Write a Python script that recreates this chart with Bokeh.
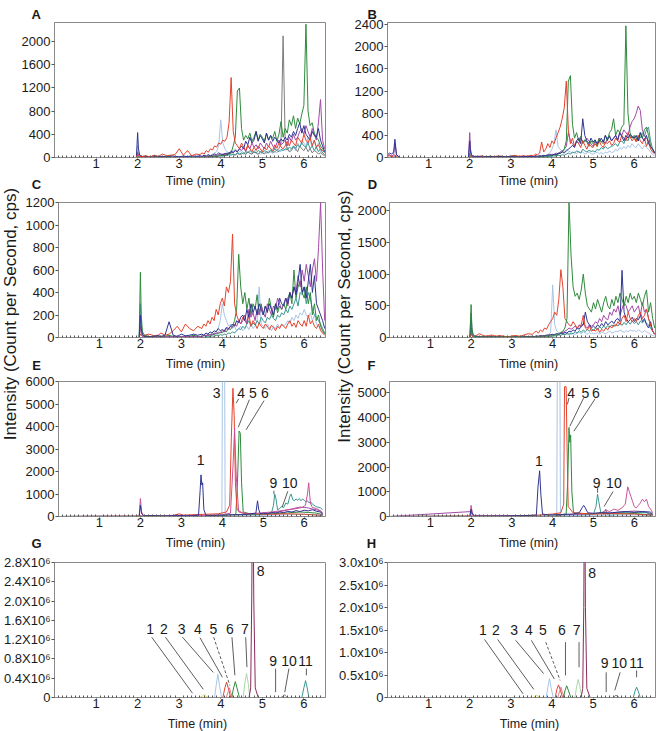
from math import pi

from bokeh.core.properties import value
from bokeh.embed import file_html
from bokeh.layouts import column, row
from bokeh.models import CustomJSTickFormatter, FixedTicker, Label, Range1d
from bokeh.plotting import figure
from bokeh.resources import INLINE

FONT = "Liberation Sans"
FRAME = "#8a8a8a"
INK = "#1a1a1a"

RED = "#e5432d"
GREEN = "#2f8a3c"
NAVY = "#2e3590"
PURPLE = "#a24aa6"
LBLUE = "#a9c4e6"
TEAL = "#3a9690"
GRAY = "#7c7c7c"
PINK = "#c8529c"
YELLOW = "#e6da5c"
LGREEN = "#a9d9a4"
MAROON = "#8a2a5c"
SALMON = "#e07a8a"

X_END = 6.52
X_TICKS = [1, 2, 3, 4, 5, 6]
Y_TITLE = "Intensity (Count per Second, cps)"
X_TITLE = "Time (min)"

# ---------------------------------------------------------------------------
# Panels A-D: total ion traces of blank extracts, sampled on a shared time grid
# ---------------------------------------------------------------------------
T_LC = [0.00, 0.05, 0.10, 0.15, 0.18, 0.22, 0.30,
        1.97, 2.00, 2.02, 2.05, 2.10,
        2.20, 2.30, 2.40, 2.50, 2.60, 2.70, 2.80, 2.90, 3.00, 3.10, 3.20, 3.30, 3.40,
        3.50, 3.55, 3.60, 3.65, 3.70, 3.75, 3.80, 3.85, 3.90, 3.95,
        4.00, 4.05, 4.10, 4.15, 4.20, 4.25, 4.30, 4.35, 4.40, 4.45,
        4.50, 4.55, 4.60, 4.65, 4.70, 4.75, 4.80, 4.85, 4.90, 4.95,
        5.00, 5.05, 5.10, 5.15, 5.20, 5.25, 5.30, 5.35, 5.40, 5.45,
        5.50, 5.55, 5.60, 5.65, 5.70, 5.75, 5.80, 5.85, 5.90, 5.95,
        6.00, 6.05, 6.10, 6.15, 6.20, 6.25, 6.30, 6.35, 6.40, 6.45,
        6.50]

A_RED = [0, 0, 0, 0, 0, 0, 0,
         0, 60, 30, 20, 15,
         30, 10, 40, 20, 60, 30, 40, 50, 150, 40, 120, 30, 60,
         50, 80, 60, 120, 90, 150, 130, 200, 180, 250,
         230, 300, 280, 350, 600, 1380, 450, 250, 200, 150,
         250, 180, 120, 220, 150, 100, 180, 120, 200, 150,
         100, 180, 130, 200, 150, 120, 220, 160, 250, 180,
         150, 200, 280, 200, 300, 250, 200, 350, 300, 250,
         400, 300, 250, 350, 200, 300, 180, 220, 150, 120,
         80]
A_GREEN = [0, 0, 0, 0, 0, 0, 0,
           0, 20, 10, 5, 0,
           0, 5, 0, 10, 0, 5, 10, 0, 5, 0, 10, 5, 0,
           0, 10, 5, 0, 10, 20, 10, 15, 20, 30,
           30, 40, 30, 50, 60, 80, 200, 350, 1150, 1200,
           500, 300, 380, 320, 420, 280, 350, 450, 300, 400,
           350, 280, 420, 300, 380, 330, 450, 280, 400, 620,
           350, 500, 420, 650, 550, 720, 500, 680, 580, 750,
           900, 2300, 800, 550, 600, 420, 350, 300, 200, 150,
           100]
A_GRAY = [0, 0, 0, 0, 0, 0, 0,
          0, 100, 50, 20, 10,
          10, 0, 10, 5, 0, 10, 0, 5, 0, 10, 5, 0, 10,
          10, 0, 20, 10, 0, 20, 10, 30, 20, 40,
          50, 30, 60, 40, 80, 60, 50, 40, 70, 50,
          60, 80, 50, 100, 70, 60, 90, 80, 50, 100,
          80, 60, 100, 80, 120, 90, 100, 130, 150, 250,
          2100, 300, 150, 100, 120, 180, 150, 100, 200, 150,
          120, 180, 100, 150, 80, 120, 100, 60, 80, 50,
          30]
A_LBLUE = [0, 0, 0, 0, 0, 0, 0,
           0, 200, 50, 20, 10,
           10, 20, 10, 5, 10, 20, 10, 15, 5, 10, 20, 10, 15,
           20, 10, 30, 20, 40, 30, 60, 80, 100, 200,
           650, 250, 150, 100, 80, 120, 100, 150, 80, 100,
           120, 80, 60, 100, 80, 50, 120, 90, 70, 60,
           80, 100, 60, 120, 90, 70, 100, 80, 130, 100,
           150, 120, 180, 100, 150, 200, 120, 250, 180, 300,
           250, 200, 350, 280, 200, 300, 150, 250, 100, 80,
           50]
A_NAVY = [0, 0, 0, 0, 0, 0, 0,
          0, 430, 150, 40, 20,
          20, 10, 30, 15, 20, 10, 30, 20, 10, 25, 15, 30, 20,
          30, 20, 40, 25, 50, 30, 40, 60, 50, 80,
          60, 50, 70, 60, 80, 100, 90, 120, 100, 150,
          200, 150, 280, 220, 350, 250, 300, 450, 280, 380,
          320, 250, 420, 300, 380, 280, 350, 300, 250, 320,
          280, 350, 300, 400, 350, 450, 380, 500, 600, 420,
          550, 400, 350, 300, 450, 380, 350, 500, 300, 200,
          100]
A_PURPLE = [0, 0, 0, 0, 0, 0, 0,
            0, 80, 30, 10, 5,
            5, 0, 10, 5, 0, 10, 5, 0, 10, 5, 0, 10, 5,
            10, 5, 20, 10, 20, 30, 20, 40, 30, 50,
            40, 60, 50, 80, 60, 100, 80, 120, 100, 150,
            120, 180, 100, 200, 150, 250, 180, 220, 150, 250,
            200, 150, 250, 180, 280, 200, 150, 250, 300, 220,
            250, 300, 200, 350, 280, 400, 300, 350, 450, 500,
            400, 550, 450, 350, 500, 400, 300, 600, 1000, 300,
            150]
A_TEAL = [0, 0, 0, 0, 0, 0, 0,
          0, 50, 20, 10, 5,
          0, 5, 0, 5, 0, 5, 0, 5, 0, 5, 0, 5, 0,
          0, 5, 10, 5, 10, 15, 10, 20, 15, 20,
          30, 20, 40, 30, 50, 40, 60, 50, 80, 60,
          80, 60, 100, 80, 120, 90, 100, 80, 120, 100,
          90, 120, 100, 80, 130, 100, 150, 120, 100, 140,
          120, 150, 130, 180, 150, 200, 160, 220, 180, 250,
          200, 180, 250, 150, 200, 120, 180, 100, 150, 80,
          50]

B_RED = [20, 40, 10, 30, 50, 10, 0,
         0, 40, 20, 10, 20,
         20, 30, 10, 25, 15, 30, 20, 10, 25, 40, 20, 30, 25,
         40, 30, 60, 50, 80, 280, 100, 150, 250, 180,
         300, 250, 350, 450, 550, 700, 900, 1380, 500, 250,
         350, 200, 300, 250, 180, 300, 220, 150, 250, 200,
         180, 250, 200, 300, 220, 180, 280, 250, 300, 220,
         250, 350, 300, 280, 400, 350, 300, 450, 380, 300,
         350, 280, 400, 300, 250, 350, 200, 300, 150, 100,
         60]
B_GREEN = [0, 0, 0, 0, 0, 0, 0,
           0, 30, 10, 5, 0,
           0, 5, 0, 5, 0, 5, 0, 5, 10, 5, 0, 5, 10,
           10, 5, 15, 10, 20, 15, 20, 30, 25, 40,
           30, 50, 40, 60, 80, 100, 150, 300, 1380, 1480,
           600, 350, 450, 300, 380, 250, 320, 280, 200, 300,
           250, 300, 200, 350, 280, 250, 400, 300, 450, 500,
           700, 400, 500, 450, 550, 600, 2380, 800, 450, 350,
           400, 350, 300, 450, 350, 500, 550, 400, 200, 150,
           80]
B_NAVY = [50, 80, 60, 100, 330, 50, 0,
          0, 300, 100, 30, 20,
          20, 10, 15, 20, 10, 15, 20, 10, 25, 15, 10, 20, 15,
          20, 15, 25, 20, 30, 25, 35, 30, 40, 50,
          40, 60, 50, 80, 70, 100, 80, 120, 150, 180,
          220, 180, 300, 350, 250, 700, 400, 300, 250, 350,
          280, 320, 250, 300, 350, 280, 400, 320, 380, 300,
          350, 400, 320, 450, 380, 300, 400, 350, 420, 380,
          350, 400, 300, 450, 350, 300, 400, 250, 200, 150,
          80]
B_PURPLE = [30, 50, 20, 60, 250, 40, 0,
            0, 450, 150, 40, 20,
            15, 10, 20, 15, 10, 20, 15, 10, 20, 10, 15, 20, 10,
            20, 15, 30, 20, 25, 30, 40, 35, 50, 45,
            60, 50, 80, 70, 100, 120, 150, 200, 450, 300,
            250, 200, 300, 250, 350, 300, 280, 350, 300, 250,
            200, 300, 250, 350, 280, 300, 250, 350, 400, 300,
            350, 400, 300, 450, 400, 500, 450, 400, 550, 650,
            700, 800, 930, 850, 500, 400, 350, 300, 200, 150,
            80]
B_LBLUE = [0, 20, 0, 10, 40, 0, 0,
           0, 150, 40, 10, 5,
           10, 5, 10, 5, 10, 5, 10, 5, 10, 5, 10, 5, 10,
           10, 15, 20, 15, 30, 20, 40, 30, 60, 80,
           150, 250, 500, 200, 150, 120, 100, 150, 120, 100,
           80, 100, 60, 120, 80, 100, 60, 80, 100, 70,
           60, 80, 100, 70, 90, 60, 100, 80, 120, 90,
           100, 150, 120, 180, 150, 200, 160, 220, 180, 250,
           200, 180, 250, 200, 150, 220, 180, 150, 100, 50,
           30]
B_TEAL = [0, 0, 0, 0, 20, 0, 0,
          0, 80, 20, 5, 0,
          0, 5, 0, 5, 0, 5, 0, 5, 0, 5, 0, 5, 0,
          0, 5, 10, 5, 10, 5, 15, 10, 20, 15,
          20, 30, 25, 40, 30, 50, 40, 60, 80, 60,
          100, 80, 120, 100, 80, 150, 120, 100, 130, 110,
          120, 100, 150, 130, 180, 150, 200, 160, 180, 200,
          220, 250, 200, 280, 300, 250, 350, 300, 400, 350,
          380, 300, 400, 350, 450, 380, 500, 550, 300, 150,
          80]

C_RED = [0, 0, 0, 0, 0, 0, 0,
         0, 30, 20, 10, 20,
         30, 20, 10, 40, 20, 30, 60, 100, 50, 120, 80, 60, 100,
         80, 120, 100, 150, 120, 180, 150, 250, 200, 300,
         350, 280, 450, 400, 500, 920, 300, 200, 150, 120,
         180, 150, 120, 200, 100, 150, 120, 80, 130, 100,
         80, 120, 100, 70, 110, 90, 60, 100, 80, 120,
         100, 80, 120, 150, 100, 130, 90, 150, 120, 100,
         150, 100, 200, 120, 150, 100, 80, 120, 60, 40,
         20]
C_GREEN = [0, 0, 0, 0, 0, 0, 0,
           0, 580, 200, 50, 20,
           10, 5, 10, 5, 10, 20, 10, 5, 10, 5, 10, 20, 10,
           10, 20, 15, 25, 20, 30, 25, 40, 30, 50,
           40, 60, 50, 80, 70, 100, 150, 250, 740, 450,
           300, 400, 250, 350, 200, 300, 250, 380, 220, 300,
           200, 280, 220, 350, 250, 180, 300, 220, 280, 250,
           300, 250, 350, 400, 300, 600, 350, 450, 500, 400,
           350, 450, 300, 400, 200, 300, 150, 200, 100, 60,
           30]
C_NAVY = [0, 0, 0, 0, 0, 0, 0,
          0, 200, 80, 30, 10,
          10, 5, 20, 10, 20, 140, 20, 10, 30, 15, 20, 30, 20,
          30, 20, 40, 30, 50, 40, 60, 50, 80, 60,
          70, 60, 90, 80, 100, 120, 100, 150, 130, 180,
          200, 150, 250, 180, 300, 220, 280, 200, 300, 250,
          200, 280, 230, 300, 250, 200, 300, 250, 350, 300,
          280, 350, 300, 400, 350, 450, 380, 500, 650, 400,
          450, 350, 500, 650, 400, 550, 300, 250, 200, 150,
          80]
C_PURPLE = [0, 0, 0, 0, 0, 0, 0,
            0, 100, 30, 10, 5,
            5, 10, 5, 10, 5, 10, 5, 10, 5, 10, 5, 10, 5,
            10, 15, 20, 15, 30, 20, 40, 30, 50, 40,
            60, 50, 80, 70, 100, 90, 120, 100, 150, 120,
            150, 200, 120, 250, 180, 220, 150, 250, 200, 280,
            220, 180, 300, 250, 200, 280, 250, 350, 300, 250,
            300, 350, 280, 400, 350, 450, 400, 550, 450, 600,
            500, 650, 550, 450, 600, 700, 500, 800, 1200, 600,
            150]
C_LBLUE = [0, 0, 0, 0, 0, 0, 0,
           0, 150, 50, 10, 5,
           5, 10, 5, 10, 5, 10, 5, 10, 5, 10, 5, 10, 5,
           10, 20, 15, 30, 20, 40, 30, 60, 80, 150,
           300, 200, 150, 100, 120, 80, 100, 60, 80, 100,
           60, 80, 100, 70, 120, 80, 100, 150, 450, 120,
           100, 80, 120, 90, 60, 100, 80, 120, 90, 110,
           100, 120, 150, 130, 180, 150, 200, 170, 220, 200,
           250, 200, 180, 220, 150, 200, 120, 100, 80, 50,
           30]
C_TEAL = [0, 0, 0, 0, 0, 0, 0,
          0, 300, 100, 20, 10,
          0, 5, 0, 5, 0, 5, 0, 5, 0, 5, 0, 5, 0,
          5, 0, 10, 5, 10, 15, 10, 20, 15, 25,
          20, 30, 25, 40, 35, 50, 40, 60, 80, 70,
          100, 80, 120, 150, 100, 130, 110, 150, 120, 180,
          150, 130, 180, 160, 200, 170, 150, 200, 180, 220,
          200, 250, 220, 280, 250, 300, 350, 280, 400, 380,
          450, 300, 400, 350, 250, 200, 180, 150, 120, 80,
          40]

D_RED = [0, 0, 0, 0, 0, 0, 0,
         0, 60, 30, 10, 20,
         60, 30, 20, 40, 20, 30, 20, 10, 25, 30, 20, 40, 60,
         50, 80, 100, 70, 120, 90, 150, 130, 200, 250,
         300, 400, 350, 600, 1070, 800, 300, 250, 200, 180,
         250, 200, 150, 180, 200, 350, 150, 120, 180, 100,
         120, 100, 150, 80, 130, 100, 150, 120, 180, 150,
         200, 180, 250, 200, 300, 350, 250, 400, 300, 250,
         300, 250, 350, 400, 300, 350, 450, 300, 200, 100,
         50]
D_GREEN = [0, 0, 0, 0, 0, 0, 0,
           0, 520, 150, 30, 10,
           5, 10, 5, 10, 5, 10, 5, 10, 5, 10, 5, 10, 5,
           10, 5, 15, 10, 20, 15, 25, 20, 30, 25,
           30, 40, 50, 60, 80, 100, 150, 300, 2130, 1300,
           800, 650, 700, 600, 750, 1000, 700, 500, 450, 400,
           550, 450, 600, 500, 400, 550, 650, 500, 450, 600,
           500, 650, 550, 700, 600, 500, 650, 550, 700, 600,
           650, 550, 700, 600, 500, 650, 750, 400, 550, 300,
           150]
D_NAVY = [0, 0, 0, 0, 0, 0, 0,
          0, 380, 120, 40, 20,
          15, 10, 20, 15, 10, 20, 15, 10, 20, 15, 10, 20, 15,
          20, 15, 25, 20, 30, 25, 30, 35, 40, 45,
          50, 40, 60, 50, 70, 60, 80, 70, 100, 90,
          120, 100, 150, 130, 180, 200, 400, 250, 200, 150,
          180, 150, 200, 170, 220, 180, 250, 200, 230, 260,
          220, 280, 300, 250, 1060, 400, 300, 250, 280, 320,
          250, 300, 280, 350, 250, 300, 200, 150, 250, 100,
          60]
D_PURPLE = [0, 0, 0, 0, 0, 0, 0,
            0, 100, 40, 10, 5,
            5, 10, 5, 10, 5, 10, 5, 10, 5, 10, 5, 10, 5,
            10, 15, 10, 20, 15, 25, 20, 30, 25, 40,
            40, 50, 60, 50, 70, 80, 100, 120, 150, 130,
            150, 180, 140, 200, 170, 220, 180, 150, 200, 180,
            200, 250, 220, 300, 250, 350, 300, 280, 400, 350,
            450, 400, 500, 350, 450, 550, 500, 400, 450, 500,
            400, 450, 500, 350, 550, 400, 450, 300, 200, 100,
            50]
D_TEAL = [0, 0, 0, 0, 0, 0, 0,
          0, 150, 50, 10, 5,
          0, 5, 0, 5, 0, 5, 0, 5, 0, 5, 0, 5, 0,
          5, 0, 10, 5, 10, 5, 15, 10, 20, 15,
          20, 25, 30, 40, 35, 50, 45, 60, 50, 70,
          60, 90, 70, 110, 80, 120, 90, 130, 100, 140,
          110, 150, 120, 170, 140, 180, 150, 190, 160, 200,
          170, 210, 180, 230, 190, 240, 200, 250, 210, 260,
          220, 250, 200, 260, 230, 270, 220, 200, 150, 100,
          50]
D_LBLUE = [0, 0, 0, 0, 0, 0, 0,
           0, 100, 30, 10, 5,
           5, 10, 5, 10, 5, 10, 5, 10, 5, 10, 5, 10, 5,
           10, 15, 20, 15, 25, 20, 30, 40, 50, 80,
           830, 200, 100, 80, 60, 80, 50, 70, 60, 50,
           60, 50, 70, 80, 60, 90, 70, 50, 80, 60,
           70, 60, 80, 50, 90, 70, 60, 80, 100, 70,
           80, 100, 90, 120, 100, 80, 110, 90, 120, 100,
           110, 90, 120, 100, 80, 110, 90, 70, 50, 30,
           20]

# ---------------------------------------------------------------------------
# Panels E-F: extracted ion traces, (time, intensity) pairs
# ---------------------------------------------------------------------------
E_NAVY = [(0, 0), (1.97, 0), (2.00, 500), (2.03, 120), (2.08, 30), (2.3, 40), (2.6, 20),
          (2.9, 50), (3.2, 30), (3.42, 60), (3.46, 1200), (3.48, 1850), (3.50, 1400),
          (3.52, 1500), (3.55, 300), (3.60, 60), (3.7, 40), (4.0, 60), (4.3, 80), (4.6, 100),
          (4.82, 150), (4.86, 700), (4.89, 300), (4.93, 120), (5.0, 150), (5.1, 120),
          (5.2, 180), (5.3, 150), (5.4, 200), (5.5, 170), (5.6, 230), (5.7, 200), (5.8, 260),
          (5.9, 220), (6.0, 280), (6.1, 250), (6.2, 300), (6.3, 230), (6.4, 200), (6.45, 80)]
E_PINK = [(0, 0), (1.97, 0), (2.00, 800), (2.03, 200), (2.08, 30), (2.5, 20), (3.0, 40),
          (3.5, 50), (4.0, 80), (4.20, 150), (4.26, 2200), (4.30, 3900), (4.34, 1800),
          (4.40, 200), (4.6, 120), (4.9, 150), (5.2, 200), (5.4, 250), (5.6, 300), (5.8, 350),
          (5.95, 400), (6.03, 500), (6.08, 1000), (6.11, 1500), (6.15, 600), (6.2, 400),
          (6.3, 350), (6.4, 250), (6.45, 100)]
E_RED = [(0, 0), (2.0, 20), (2.4, 30), (2.8, 50), (2.95, 120), (3.05, 60), (3.3, 80),
         (3.6, 100), (3.9, 120), (4.10, 200), (4.18, 500), (4.22, 3500), (4.26, 5700),
         (4.29, 4500), (4.32, 1500), (4.36, 300), (4.5, 150), (4.8, 120), (5.2, 100),
         (5.6, 120), (6.0, 100), (6.45, 50)]
E_LBLUE = [(0, 0), (2.0, 50), (3.0, 30), (3.8, 40), (3.99, 60), (4.03, 20000), (4.07, 60),
           (4.3, 40), (5.0, 50), (5.6, 80), (6.0, 100), (6.45, 50)]
E_GREEN = [(0, 0), (2.0, 10), (3.0, 20), (4.0, 40), (4.33, 80), (4.37, 1500), (4.41, 3800),
           (4.44, 3700), (4.47, 1500), (4.51, 200), (4.7, 100), (5.0, 100), (5.3, 130),
           (5.6, 160), (5.9, 200), (6.1, 180), (6.3, 150), (6.45, 80)]
E_TEAL = [(0, 0), (2.0, 10), (3.0, 20), (4.0, 40), (4.6, 60), (5.0, 100), (5.2, 150),
          (5.25, 500), (5.28, 1000), (5.31, 800), (5.35, 300), (5.40, 350), (5.45, 450),
          (5.50, 400), (5.55, 600), (5.60, 550), (5.65, 900), (5.68, 1000), (5.72, 750),
          (5.76, 700), (5.80, 780), (5.84, 720), (5.88, 800), (5.92, 700), (5.96, 780),
          (6.00, 720), (6.04, 650), (6.08, 700), (6.12, 600), (6.16, 650), (6.20, 550),
          (6.24, 500), (6.28, 450), (6.32, 420), (6.36, 400), (6.40, 380), (6.45, 300)]
E_PURPLE = [(0, 0), (2.0, 30), (3.0, 30), (4.0, 50), (4.5, 80), (5.0, 120), (5.3, 180),
            (5.5, 250), (5.6, 300), (5.7, 330), (5.8, 380), (5.9, 420), (6.0, 400),
            (6.1, 380), (6.2, 330), (6.3, 300), (6.4, 250), (6.45, 150)]

F_NAVY = [(0, 0), (1.97, 0), (2.00, 300), (2.03, 100), (2.08, 20), (2.5, 20), (3.0, 30),
          (3.4, 40), (3.60, 60), (3.64, 1200), (3.68, 1850), (3.71, 900), (3.75, 100),
          (3.9, 60), (4.2, 80), (4.5, 100), (4.65, 150), (4.72, 350), (4.76, 450),
          (4.80, 350), (4.86, 150), (5.0, 130), (5.2, 160), (5.4, 140), (5.6, 180),
          (5.8, 200), (6.0, 170), (6.2, 200), (6.4, 180), (6.45, 80)]
F_LBLUE = [(0, 0), (2.0, 40), (3.0, 30), (4.0, 50), (4.10, 60), (4.145, 20000), (4.19, 60),
           (4.4, 40), (5.0, 50), (6.0, 60), (6.45, 40)]
F_RED = [(0, 0), (2.0, 20), (3.0, 30), (3.6, 50), (4.0, 100), (4.20, 150), (4.27, 500),
         (4.29, 5250), (4.33, 5250), (4.35, 3000), (4.38, 400), (4.5, 150), (5.0, 100),
         (5.5, 120), (6.0, 100), (6.45, 50)]
F_GREEN = [(0, 0), (2.0, 20), (3.0, 20), (4.0, 40), (4.33, 100), (4.37, 1500), (4.40, 3600),
           (4.42, 3000), (4.44, 3300), (4.47, 1000), (4.51, 150), (4.8, 100), (5.2, 120),
           (5.6, 100), (6.0, 120), (6.45, 60)]
F_TEAL = [(0, 0), (2.0, 10), (3.0, 20), (4.0, 40), (4.6, 60), (5.0, 100), (5.06, 400),
          (5.10, 900), (5.13, 600), (5.18, 150), (5.3, 120), (5.5, 140), (5.7, 160),
          (5.9, 150), (6.1, 170), (6.3, 150), (6.45, 80)]
F_PINK = [(0, 0), (1.97, 0), (2.0, 450), (2.03, 150), (2.08, 20), (3.0, 30), (4.0, 40),
          (4.5, 60), (5.0, 100), (5.2, 150), (5.3, 250), (5.4, 200), (5.5, 300), (5.6, 250),
          (5.7, 350), (5.78, 500), (5.84, 1200), (5.88, 1000), (5.92, 800), (5.96, 600),
          (6.0, 400), (6.05, 350), (6.1, 450), (6.15, 550), (6.2, 700), (6.25, 600),
          (6.3, 700), (6.35, 400), (6.4, 300), (6.45, 150)]
F_PURPLE = [(0, 0), (2.0, 200), (2.03, 50), (3.0, 20), (4.0, 40), (4.5, 80), (5.0, 120),
            (5.5, 150), (5.8, 200), (6.0, 220), (6.2, 200), (6.45, 100)]
F_GRAY = [(0, 0), (5.2, 0), (5.26, 100), (5.30, 300), (5.34, 80), (5.5, 0), (6.45, 0)]

# ---------------------------------------------------------------------------
# Panels G-H: standards, one trace per analyte
# ---------------------------------------------------------------------------
G_YELLOW = [(3.50, 0), (3.56, 3e4), (3.60, 6e4), (3.64, 3e4), (3.70, 0)]
G_LBLUE = [(3.85, 0), (3.89, 2.5e5), (3.93, 4.8e5), (3.97, 2.5e5), (4.02, 0)]
G_RED = [(4.05, 0), (4.10, 2.0e5), (4.14, 3.2e5), (4.18, 2.0e5), (4.24, 0)]
G_PINK = [(4.13, 0), (4.18, 1.2e5), (4.21, 2.0e5), (4.24, 1.0e5), (4.30, 0)]
G_GREEN = [(4.26, 0), (4.31, 2.0e5), (4.35, 3.3e5), (4.39, 2.0e5), (4.45, 0)]
G_LGREEN = [(4.54, 0), (4.58, 3.0e5), (4.62, 5.0e5), (4.66, 3.0e5), (4.70, 0)]
G_MAROON = [(4.68, 0), (4.72, 2e5), (4.745, 2.0e6), (4.77, 5.0e6), (4.795, 2.0e6),
            (4.83, 2e5), (4.90, 0)]
G_GRAY = [(5.45, 0), (5.50, 3e4), (5.53, 6e4), (5.56, 3e4), (5.60, 0)]
G_TEAL = [(5.95, 0), (6.00, 2.0e5), (6.04, 3.5e5), (6.08, 2.0e5), (6.12, 0)]

H_YELLOW = [(3.55, 0), (3.60, 3e4), (3.63, 5e4), (3.66, 3e4), (3.72, 0)]
H_LBLUE = [(3.86, 0), (3.90, 2.2e5), (3.94, 4.2e5), (3.98, 2.2e5), (4.03, 0)]
H_RED = [(4.08, 0), (4.12, 1.8e5), (4.16, 2.8e5), (4.20, 1.8e5), (4.26, 0)]
H_PINK = [(4.14, 0), (4.19, 1.4e5), (4.22, 2.3e5), (4.25, 1.2e5), (4.31, 0)]
H_GREEN = [(4.28, 0), (4.32, 1.6e5), (4.36, 2.6e5), (4.40, 1.6e5), (4.46, 0)]
H_LGREEN = [(4.56, 0), (4.60, 2.4e5), (4.64, 4.0e5), (4.68, 2.4e5), (4.73, 0)]
H_MAROON = [(4.71, 0), (4.75, 2e5), (4.775, 2.0e6), (4.795, 5.5e6), (4.815, 2.0e6),
            (4.85, 2e5), (4.93, 0)]
H_GRAY = [(5.49, 0), (5.53, 3e4), (5.56, 5e4), (5.59, 3e4), (5.64, 0)]
H_TEAL = [(5.98, 0), (6.02, 1.4e5), (6.06, 2.3e5), (6.10, 1.4e5), (6.15, 0)]

# Y-axis ticks and their printed labels
A_YT = [0, 400, 800, 1200, 1600, 2000]
B_YT = [0, 400, 800, 1200, 1600, 2000, 2400]
C_YT = [0, 200, 400, 600, 800, 1000, 1200]
D_YT = [0, 500, 1000, 1500, 2000]
E_YT = [0, 1000, 2000, 3000, 4000, 5000, 6000]
F_YT = [0, 1000, 2000, 3000, 4000, 5000]
G_YT = [0, 400000, 800000, 1200000, 1600000, 2000000, 2400000, 2800000]
G_YL = ["0", "0.4X10⁶", "0.8X10⁶", "1.2X10⁶", "1.6X10⁶", "2.0X10⁶", "2.4X10⁶", "2.8X10⁶"]
H_YT = [0, 500000, 1000000, 1500000, 2000000, 2500000, 3000000]
H_YL = ["0", "0.5x10⁶", "1.0x10⁶", "1.5x10⁶", "2.0x10⁶", "2.5x10⁶", "3.0x10⁶"]

# Peak numbers (text, time, intensity) and their leader lines (t0, y0, t1, y1)
E_TAGS = [("1", 3.47, 2490), ("3", 3.86, 5470), ("4", 4.46, 5470), ("5", 4.75, 5470),
          ("6", 5.04, 5470), ("9", 5.25, 1480), ("10", 5.65, 1480)]
E_LEADS = [(4.40, 5230, 4.34, 5040), (4.66, 5190, 4.39, 3970), (5.02, 5150, 4.58, 3850),
           (5.26, 1150, 5.26, 1000), (5.60, 1120, 5.46, 410)]
F_TAGS = [("1", 3.66, 2230), ("3", 3.88, 5015), ("4", 4.45, 5015), ("5", 4.80, 5015),
          ("6", 5.06, 5015), ("9", 5.08, 1350), ("10", 5.50, 1350)]
F_LEADS = [(4.40, 4800, 4.36, 4530), (4.76, 4800, 4.42, 3650), (5.04, 4760, 4.52, 3450),
           (5.10, 1150, 5.10, 960), (5.48, 1010, 5.26, 405)]
G_TAGS = [("1", 2.30, 1.43e6), ("2", 2.63, 1.43e6), ("3", 3.06, 1.43e6), ("4", 3.45, 1.43e6),
          ("5", 3.82, 1.43e6), ("6", 4.22, 1.43e6), ("7", 4.58, 1.43e6), ("8", 4.96, 2.62e6),
          ("9", 5.26, 0.75e6), ("10", 5.64, 0.75e6), ("11", 6.04, 0.75e6)]
G_LEADS = [(2.34, 1.25e6, 3.32, 0.09e6), (2.67, 1.25e6, 3.58, 0.17e6),
           (3.08, 1.25e6, 3.82, 0.52e6), (3.50, 1.24e6, 4.04, 0.42e6),
           (4.27, 1.25e6, 4.34, 0.46e6), (4.60, 1.25e6, 4.63, 0.63e6),
           (5.32, 0.60e6, 5.32, 0.11e6), (5.64, 0.60e6, 5.54, 0.11e6),
           (6.06, 0.60e6, 6.06, 0.46e6)]
G_DASHED = [(3.83, 1.25e6, 4.22, 0.25e6)]
H_TAGS = [("1", 2.32, 1.49e6), ("2", 2.64, 1.49e6), ("3", 3.08, 1.49e6), ("4", 3.44, 1.49e6),
          ("5", 3.78, 1.49e6), ("6", 4.24, 1.49e6), ("7", 4.60, 1.49e6), ("8", 4.98, 2.76e6),
          ("9", 5.28, 0.76e6), ("10", 5.64, 0.76e6), ("11", 6.06, 0.76e6)]
H_LEADS = [(2.36, 1.29e6, 3.30, 0.08e6), (2.68, 1.29e6, 3.56, 0.18e6),
           (3.12, 1.27e6, 3.80, 0.53e6), (3.50, 1.27e6, 4.06, 0.41e6),
           (4.33, 1.23e6, 4.33, 0.49e6), (4.66, 1.23e6, 4.66, 0.67e6),
           (5.32, 0.56e6, 5.32, 0.12e6), (5.66, 0.56e6, 5.53, 0.16e6),
           (6.06, 0.60e6, 6.06, 0.45e6)]
H_DASHED = [(3.85, 1.23e6, 4.20, 0.38e6)]

TICK_JS = """
for (let i = 0; i < vals.length; i++) {
    if (Math.abs(vals[i] - tick) <= 1e-6 * Math.max(1, Math.abs(tick))) return labels[i];
}
return "";
"""


def chrom_panel(w, h, bl, br, bt, bb, y_end, y_ticks, y_labels=None, letter=None,
                y_standoff=1):
    p = figure(width=w, height=h, x_range=Range1d(0, X_END), y_range=Range1d(0, y_end),
               output_backend="svg", toolbar_location=None,
               min_border_left=bl, min_border_right=br,
               min_border_top=bt, min_border_bottom=bb)
    if letter is not None:
        # panel letter sits left of the frame, in the top margin
        p.title.text = letter[0]
        p.title.align = "left"
        p.title.offset = letter[1]
        p.title.standoff = 0
        p.title.vertical_align = "middle"
        p.title.text_font = FONT
        p.title.text_font_style = "bold"
        p.title.text_font_size = "13px"
        p.title.text_color = INK
    p.grid.visible = False
    p.outline_line_color = FRAME
    p.outline_line_width = 1
    xa, ya = p.xaxis[0], p.yaxis[0]
    xa.ticker = FixedTicker(ticks=X_TICKS,
                            minor_ticks=[i / 10 for i in range(1, 65) if i % 10])
    ya.ticker = FixedTicker(ticks=y_ticks)
    labels = y_labels if y_labels is not None else [str(v) for v in y_ticks]
    ya.formatter = CustomJSTickFormatter(args=dict(vals=y_ticks, labels=labels), code=TICK_JS)
    for ax in (xa, ya):
        ax.axis_line_color = FRAME
        ax.major_tick_line_color = "#555555"
        ax.minor_tick_line_color = "#555555"
        ax.major_label_text_font = FONT
        ax.major_label_text_font_size = "13px"
        ax.major_label_text_color = INK
        ax.major_tick_in = 0
    xa.major_tick_out = 1
    xa.major_label_standoff = 0
    xa.minor_tick_in = 2
    xa.minor_tick_out = 0
    ya.major_tick_out = 3
    ya.major_label_standoff = y_standoff
    ya.minor_tick_out = 0
    ya.minor_tick_in = 0
    return p


def pixel_canvas(w, h):
    """A figure without axes whose frame fills it; ranges are pixels from its top-left."""
    p = figure(width=w, height=h, x_range=Range1d(0, w), y_range=Range1d(h, 0),
               output_backend="svg", toolbar_location=None,
               x_axis_location=None, y_axis_location=None, min_border=0)
    if "frame_align" in p.properties():
        p.frame_align = False
    p.grid.visible = False
    p.outline_line_color = None
    return p


def text_strip(w, h, items):
    """Thin band between panels holding the time captions and panel letters."""
    p = pixel_canvas(w, h)
    for txt, x, y, bold in items:
        p.add_layout(Label(x=x, y=y, text=txt, text_font=FONT,
                           text_font_style="bold" if bold else "normal",
                           text_font_size="13px" if bold else "12.5px",
                           text_color=INK, text_align="center", text_baseline="middle"))
    return p


def side_title(w, h, cx, cy):
    p = pixel_canvas(w, h)
    p.add_layout(Label(x=cx, y=cy, angle=pi / 2,
                       text=Y_TITLE, text_font=FONT, text_font_size="17px",
                       text_color=INK, text_align="center", text_baseline="middle"))
    return p


def grid_traces(p, traces):
    for color, vals in traces:
        if len(vals) != len(T_LC):
            raise ValueError("trace length mismatch")
        p.line(T_LC, vals, line_color=color, line_width=1)


def pair_traces(p, traces):
    for color, pairs in traces:
        xs = [a for a, _ in pairs]
        ys = [b for _, b in pairs]
        p.line(xs, ys, line_color=color, line_width=1)


def peak_tags(p, tags, leads, dashed=()):
    if leads:
        p.segment([a[0] for a in leads], [a[1] for a in leads],
                  [a[2] for a in leads], [a[3] for a in leads],
                  line_color="#333333", line_width=0.8)
    if dashed:
        p.segment([a[0] for a in dashed], [a[1] for a in dashed],
                  [a[2] for a in dashed], [a[3] for a in dashed],
                  line_color="#333333", line_width=0.8, line_dash="3 2")
    p.text([t[1] for t in tags], [t[2] for t in tags], text=[t[0] for t in tags],
           text_font=value(FONT), text_font_size="14px", text_color=INK,
           text_align="center", text_baseline="middle")


# ---- left column -----------------------------------------------------------
pa = chrom_panel(330, 173, 54, 5, 22, 16, 2330, A_YT, letter=("A", -23))
grid_traces(pa, [(LBLUE, A_LBLUE), (GRAY, A_GRAY), (TEAL, A_TEAL), (PURPLE, A_PURPLE),
                 (GREEN, A_GREEN), (NAVY, A_NAVY), (RED, A_RED)])

pc = chrom_panel(308, 161, 32, 5, 10, 16, 1200, C_YT)
grid_traces(pc, [(LBLUE, C_LBLUE), (TEAL, C_TEAL), (GREEN, C_GREEN), (RED, C_RED),
                 (PURPLE, C_PURPLE), (NAVY, C_NAVY)])

pe = chrom_panel(308, 159, 32, 5, 8, 16, 6000, E_YT)
pair_traces(pe, [(PURPLE, E_PURPLE), (TEAL, E_TEAL), (GREEN, E_GREEN), (LBLUE, E_LBLUE),
                 (RED, E_RED), (PINK, E_PINK), (NAVY, E_NAVY)])
peak_tags(pe, E_TAGS, E_LEADS)

pg = chrom_panel(330, 162, 54, 5, 11, 16, 2.8e6, G_YT, G_YL)
pair_traces(pg, [(YELLOW, G_YELLOW), (LBLUE, G_LBLUE), (RED, G_RED), (SALMON, G_PINK),
                 (GREEN, G_GREEN), (LGREEN, G_LGREEN), (MAROON, G_MAROON), (GRAY, G_GRAY),
                 (TEAL, G_TEAL)])
peak_tags(pg, G_TAGS, G_LEADS, G_DASHED)

# ---- right column ----------------------------------------------------------
pb = chrom_panel(335, 173, 57, 9, 22, 16, 2440, B_YT, letter=("B", -20))
grid_traces(pb, [(LBLUE, B_LBLUE), (TEAL, B_TEAL), (PURPLE, B_PURPLE), (GREEN, B_GREEN),
                 (RED, B_RED), (NAVY, B_NAVY)])

pd_ = chrom_panel(311, 161, 32, 10, 10, 16, 2130, D_YT, y_standoff=0)
grid_traces(pd_, [(LBLUE, D_LBLUE), (TEAL, D_TEAL), (PURPLE, D_PURPLE), (NAVY, D_NAVY),
                  (RED, D_RED), (GREEN, D_GREEN)])

pf = chrom_panel(311, 159, 32, 10, 8, 16, 5460, F_YT, y_standoff=0)
pair_traces(pf, [(PURPLE, F_PURPLE), (GRAY, F_GRAY), (TEAL, F_TEAL), (PINK, F_PINK),
                 (GREEN, F_GREEN), (LBLUE, F_LBLUE), (RED, F_RED), (NAVY, F_NAVY)])
peak_tags(pf, F_TAGS, F_LEADS)

ph = chrom_panel(335, 162, 56, 10, 11, 16, 3.0e6, H_YT, H_YL)
pair_traces(ph, [(YELLOW, H_YELLOW), (LBLUE, H_LBLUE), (RED, H_RED), (SALMON, H_PINK),
                 (GREEN, H_GREEN), (LGREEN, H_LGREEN), (MAROON, H_MAROON), (GRAY, H_GRAY),
                 (TEAL, H_TEAL)])
peak_tags(ph, H_TAGS, H_LEADS, H_DASHED)

left = column(
    pa,
    row(side_title(22, 359, 10, 140.5),
        column(text_strip(308, 19, [(X_TITLE, 173, 7.5, False), ("C", 14, 11, True)]),
               pc,
               text_strip(308, 20, [(X_TITLE, 173, 10, False), ("E", 14, 12, True)]),
               pe)),
    text_strip(330, 19, [(X_TITLE, 195, 10, False), ("G", 36, 11, True)]),
    pg,
    text_strip(330, 18, [(X_TITLE, 197, 10, False)]),
)
right = column(
    pb,
    row(side_title(24, 359, 13.5, 143),
        column(text_strip(311, 19, [(X_TITLE, 174, 7.5, False), ("D", 18, 11, True)]),
               pd_,
               text_strip(311, 20, [(X_TITLE, 174, 10, False), ("F", 17, 12, True)]),
               pf)),
    text_strip(335, 19, [(X_TITLE, 198, 10, False), ("H", 41, 11, True)]),
    ph,
    text_strip(335, 18, [(X_TITLE, 199, 10, False)]),
)
page = row(left, right)

open("out.html", "w").write(file_html(page, INLINE))
